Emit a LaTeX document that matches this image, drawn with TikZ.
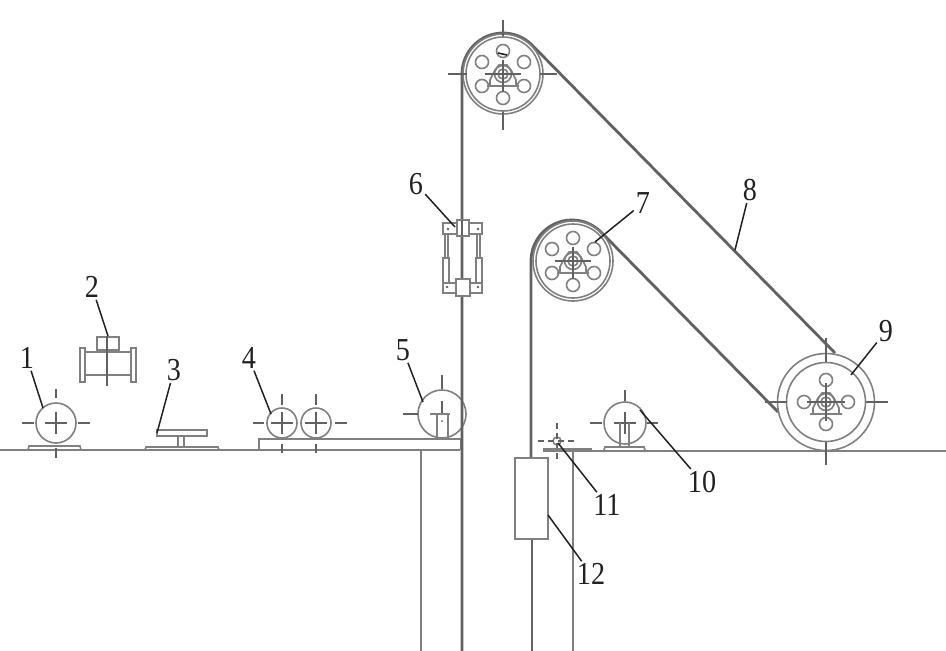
\documentclass[tikz,border=0pt]{standalone}
\usepackage{fontspec}
\setmainfont{Liberation Serif}
\newcommand\lbl[1]{\scalebox{.88}[1]{\fontsize{32}{32}\selectfont #1}}
\definecolor{gA}{gray}{.5}
\definecolor{gB}{gray}{.38}
\definecolor{ink}{gray}{.13}
\tikzset{
  thin line/.style={draw=gA,line width=1.6pt},
  frame line/.style={draw=gA,line width=2pt},
  belt/.style={draw=gB,line width=2.8pt},
  cross line/.style={draw=gB,line width=1.4pt},
  leader/.style={draw=ink,line width=1.5pt},
  lab/.style={text=ink,inner sep=2pt},
  hub/.pic={
    \draw[thin line] (0,0) circle (8.5);
    \draw[thin line] (0,0) circle (5);
    \draw[thin line] (-16,12) -- (16,12) (-13,12) -- (-13,6) -- (-8,-4) -- (-4,-9) -- (4,-9) -- (8,-4) -- (13,6) -- (13,12);
  },
  six holes/.pic={
    \foreach \a/\b in {0/-23,0/24,-21/-12,21/-12,-21/12,21/12}
      \draw[thin line] (\a,\b) circle (6.5);
    \draw[cross line] (-18,0) -- (18,0) (0,-14) -- (0,18);
  },
  four holes/.pic={
    \foreach \a/\b in {0/-22,0/22,-22/0,22/0}
      \draw[thin line] (\a,\b) circle (6.5);
    \draw[cross line] (-19,0) -- (19,0) (0,-19) -- (0,19);
  },
  roller/.pic={
    \draw[cross line] (-11,0) -- (11,0) (0,-11) -- (0,11);
  }
}
\begin{document}
\begin{tikzpicture}[x=1pt,y=1pt,yscale=-1]
\useasboundingbox (0,0) rectangle (946,651);
% ground and frame
\draw[frame line] (0,450) -- (460,450);
\draw[frame line] (543,451) -- (946,451);
\draw[frame line] (259,450) -- (259,439) -- (461,439) -- (461,450);
\draw[frame line] (421,450) -- (421,651);
\draw[frame line] (573,451) -- (573,651);
% item 1
\draw[thin line] (28,450) -- (29,446) -- (80,446) -- (81,450);
\draw[thin line,fill=white] (56,423) circle (20);
\pic[transform shape] at (56,423) {roller};
\draw[cross line] (56,389) -- (56,398) (56,448) -- (56,458) (22,423) -- (34,423) (78,423) -- (90,423);
% item 2
\draw[thin line] (80,348) rectangle (85,382) (131,348) rectangle (136,382);
\draw[thin line] (85,352) -- (131,352) (85,375) -- (131,375);
\draw[thin line] (97,337) rectangle (119,350);
\draw[cross line] (107,336) -- (107,386);
% item 3
\draw[thin line] (145,450) -- (146,447) -- (218,447) -- (219,450);
\draw[thin line] (178,436) -- (178,447) (184,436) -- (184,447);
\draw[thin line] (157,430) rectangle (207,436);
% item 4
\draw[thin line] (282,423) circle (15) (316,423) circle (15);
\pic[transform shape] at (282,423) {roller};
\pic[transform shape] at (316,423) {roller};
\draw[cross line] (282,394) -- (282,405) (316,394) -- (316,405) (282,444) -- (282,453) (316,444) -- (316,453) (253,423) -- (264,423) (335,423) -- (347,423);
% item 5
\draw[thin line] (442,414) circle (24);
\draw[cross line] (442,375) -- (442,389) (403,414) -- (418,414) (442,401) -- (442,414);
\draw[thin line] (430,414) -- (450,414) (437,414) -- (437,438) (448,414) -- (448,438);
\fill[gB] (442,421) circle (1);
% belts
\draw[belt] (462,651) -- (462,74) arc[start angle=180,end angle=315,radius=41] -- (835,353);
\draw[belt] (531,458) -- (531,261) arc[start angle=180,end angle=315,radius=41] -- (778,412);
\draw[belt] (532,539) -- (532,651);
% top pulley
\draw[thin line] (503,74) circle (37);
\draw[thin line] (503,74) circle (40);
\pic[transform shape] at (503,74) {hub};
\pic[transform shape] at (503,74) {six holes};
\draw[cross line] (503,20) -- (503,36) (503,112) -- (503,130) (448,74) -- (467,74) (540,74) -- (557,74);
\draw[draw=ink,line width=1.6pt] (498,53) -- (507,55);
% pulley 7
\draw[thin line] (573,261) circle (37);
\draw[thin line] (573,261) circle (40);
\pic[transform shape] at (573,261) {hub};
\pic[transform shape] at (573,261) {six holes};
% pulley 9
\draw[thin line] (826,402) circle (48.5);
\draw[thin line] (826,402) circle (39.5);
\pic[transform shape] at (826,402) {hub};
\pic[transform shape] at (826,402) {four holes};
\draw[cross line] (826,338) -- (826,362) (826,442) -- (826,465) (765,402) -- (787,402) (866,402) -- (888,402);
% item 6
\draw[thin line,fill=white] (443,223) rectangle (482,234);
\draw[thin line,fill=white] (443,283) rectangle (482,293);
\draw[thin line,fill=white] (457,220) rectangle (469,236);
\draw[belt] (462,220) -- (462,236);
\draw[thin line,fill=white] (456,279) rectangle (470,296);
\draw[thin line] (445,234) -- (445,258) (448,234) -- (448,258) (477,234) -- (477,258) (480,234) -- (480,258);
\draw[thin line] (443,258) rectangle (449,283) (476,258) rectangle (482,283);
\foreach \a/\b in {448/229,478/229,447/287,478/287} \fill[gB] (\a,\b) circle (1.3);
% item 10
\draw[thin line] (604,450) -- (605,447) -- (644,447) -- (645,450);
\draw[thin line] (625,423) circle (21);
\pic[transform shape] at (625,423) {roller};
\draw[cross line] (625,390) -- (625,401) (590,423) -- (602,423) (647,423) -- (658,423);
\draw[thin line] (620,423) -- (620,447) (629,423) -- (629,447);
% item 11
\draw[thin line] (557,441) circle (4);
\draw[cross line,dash pattern=on 6pt off 4pt] (538,441) -- (576,441) (557,423) -- (557,461);
\draw[thin line] (543,449) -- (592,449);
% item 12
\node[draw=gA,line width=2pt,fill=white,minimum width=33pt,minimum height=81pt,inner sep=0pt] (box) at (531.5,498.5) {};
% targets
\coordinate (t1) at (43,408);
\coordinate (t2) at (108,336);
\coordinate (t3) at (157,433);
\coordinate (t4) at (271,414);
\coordinate (t5) at (423,402);
\coordinate (t6) at (455,227);
\coordinate (t7) at (595,242);
\coordinate (t8) at (735,250);
\coordinate (t9) at (851,375);
\coordinate (t10) at (640,410);
\coordinate (t11) at (558,443);
\coordinate (t12) at (548,515);
% labels
\node[lab] (l1) at (27,358) {\lbl{1}};
\node[lab] (l2) at (92,287) {\lbl{2}};
\node[lab] (l3) at (174,370) {\lbl{3}};
\node[lab] (l4) at (249,358) {\lbl{4}};
\node[lab] (l5) at (403,350) {\lbl{5}};
\node[lab] (l6) at (416,184) {\lbl{6}};
\node[lab] (l7) at (643,203) {\lbl{7}};
\node[lab] (l8) at (750,190) {\lbl{8}};
\node[lab] (l9) at (886,331) {\lbl{9}};
\node[lab] (l10) at (702,482) {\lbl{10}};
\node[lab] (l11) at (607,505) {\lbl{11}};
\node[lab] (l12) at (591,574) {\lbl{12}};
\foreach \i in {1,...,12} \draw[leader] (l\i) -- (t\i);
\end{tikzpicture}
\end{document}
